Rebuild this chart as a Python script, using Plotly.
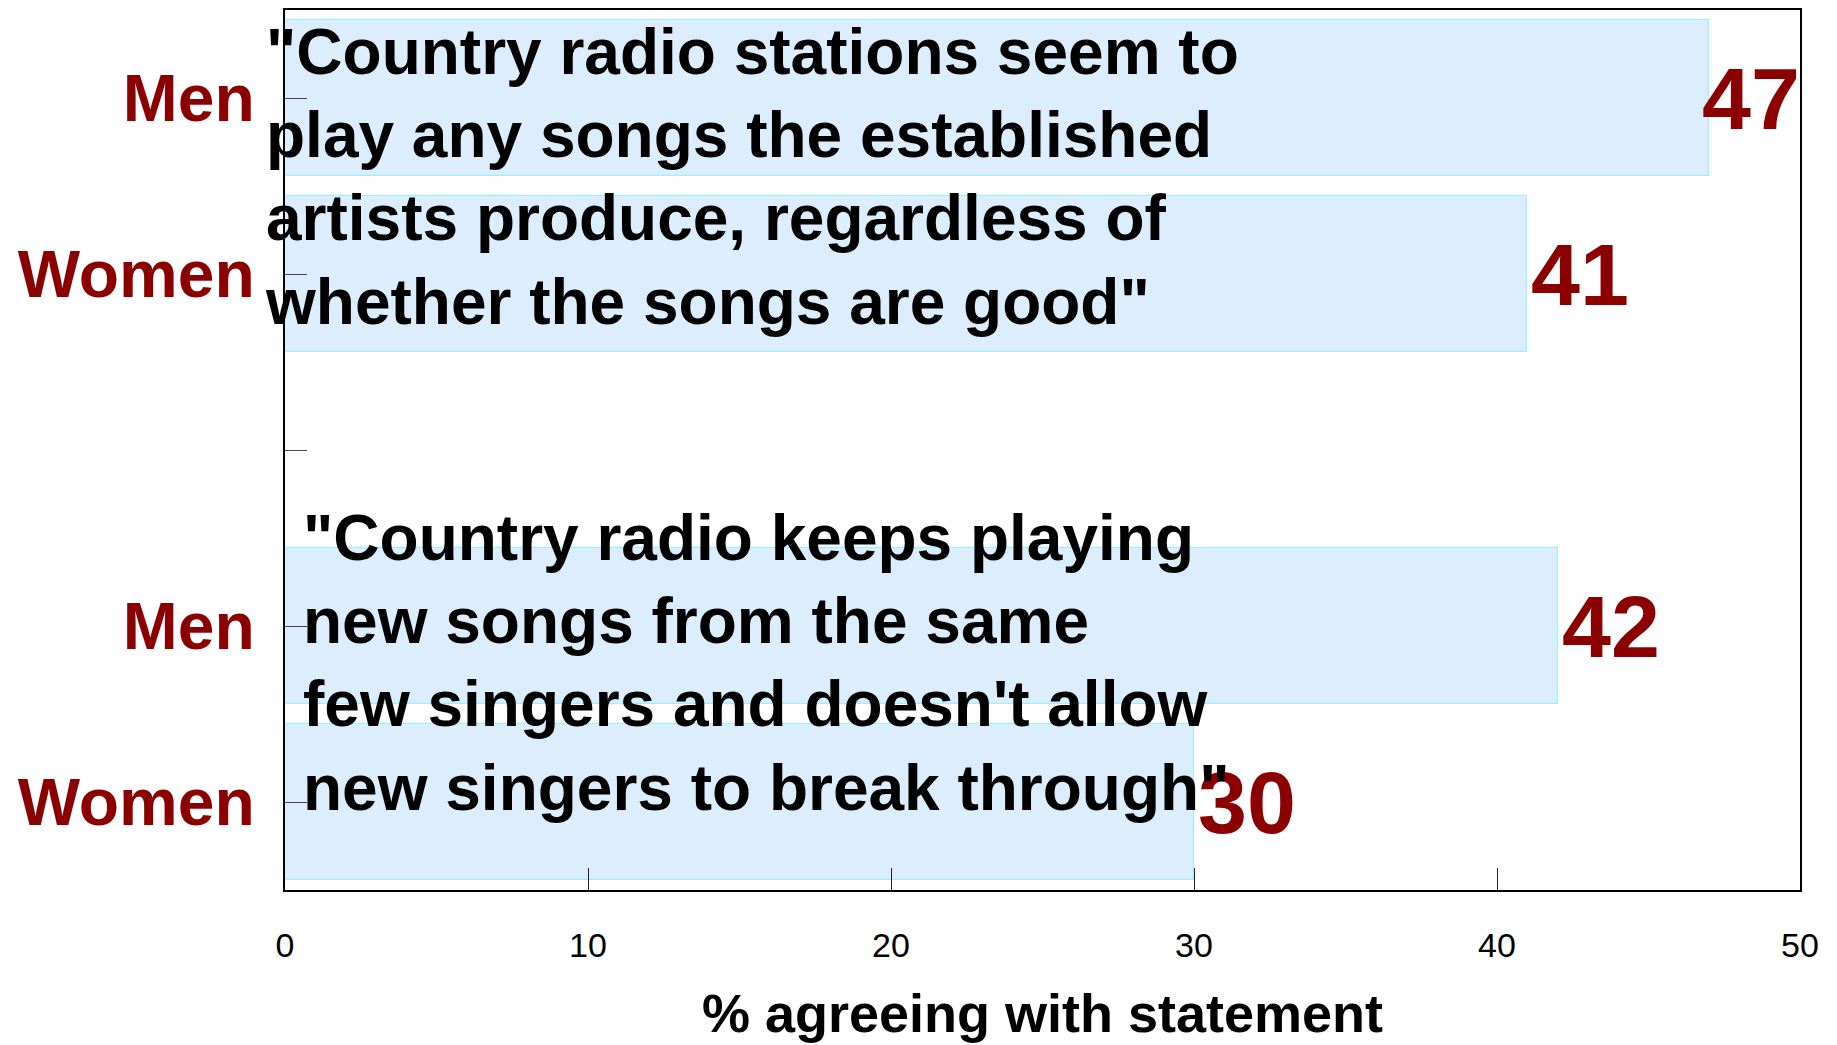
import plotly.graph_objects as go

# survey statements, % agreeing
statements = [
    '"Country radio stations seem to<br>play any songs the established<br>artists produce, regardless of<br>whether the songs are good"',
    '"Country radio keeps playing<br>new songs from the same<br>few singers and doesn\'t allow<br>new singers to break through"',
]
genders = ["Men", "Women"]
men = [47, 42]
women = [41, 30]

FONT = "Liberation Sans, Arial, Helvetica, sans-serif"
DARKRED = "#8b0000"

# rows: Men, Women, (gap), Men, Women
ypos, vals = [], []
for g in range(len(statements)):
    for k, v in enumerate([men[g], women[g]]):
        ypos.append(g * 3 + k)
        vals.append(v)
tickvals = list(range(len(statements) * 3 - 1))
ticktext = [genders[i % 3] if i % 3 < 2 else "" for i in tickvals]

fig = go.Figure()
fig.add_trace(go.Bar(
    x=vals, y=ypos, orientation="h", width=0.886,
    marker=dict(color="rgb(220,238,253)", line=dict(color="rgb(160,238,255)", width=1.2)),
    hoverinfo="x",
))

# value labels
for y, v in zip(ypos, vals):
    fig.add_annotation(x=v, y=y, xref="x", yref="y", text=str(v), showarrow=False,
                       xanchor="left", yanchor="middle", xshift=-9 if v > 45 else 2,
                       font=dict(family=FONT, size=88, color=DARKRED, weight="bold"))

# statement texts
shifts = [(-22, 0.45), (16, 3.21)]
for s, (xs, yc) in zip(statements, shifts):
    fig.add_annotation(x=0, y=yc, xref="paper", yref="y", text=s, showarrow=False,
                       xanchor="left", yanchor="middle", align="left", xshift=xs,
                       font=dict(family=FONT, size=64, color="black", weight="bold"))

# page body has an 8px margin, so the figure is a bit smaller than the window
fig.update_layout(
    width=1829, height=1037,
    margin=dict(l=277, r=37, t=2, b=155),
    paper_bgcolor="white", plot_bgcolor="white",
    showlegend=False, bargap=0,
    font=dict(family=FONT, color="black"),
)
fig.update_xaxes(
    range=[0, 50], dtick=10, showgrid=False, zeroline=False, automargin=False,
    showline=True, linecolor="black", linewidth=2, mirror=True,
    ticks="inside", ticklen=22, tickcolor="#222", tickwidth=1,
    tickfont=dict(family=FONT, size=34, color="black"),
    ticklabelstandoff=24,
    title=dict(text="% agreeing with statement", standoff=31,
               font=dict(family=FONT, size=54, color="black", weight="bold")),
)
fig.update_yaxes(
    range=[4.5, -0.5], tickvals=tickvals, ticktext=ticktext,
    showgrid=False, zeroline=False, automargin=False,
    showline=True, linecolor="black", linewidth=2, mirror=True,
    ticks="inside", ticklen=22, tickcolor="#444", tickwidth=1,
    tickfont=dict(family=FONT, size=66, color=DARKRED, weight="bold"),
    ticklabelstandoff=15,
)

fig.write_html("out.html")
